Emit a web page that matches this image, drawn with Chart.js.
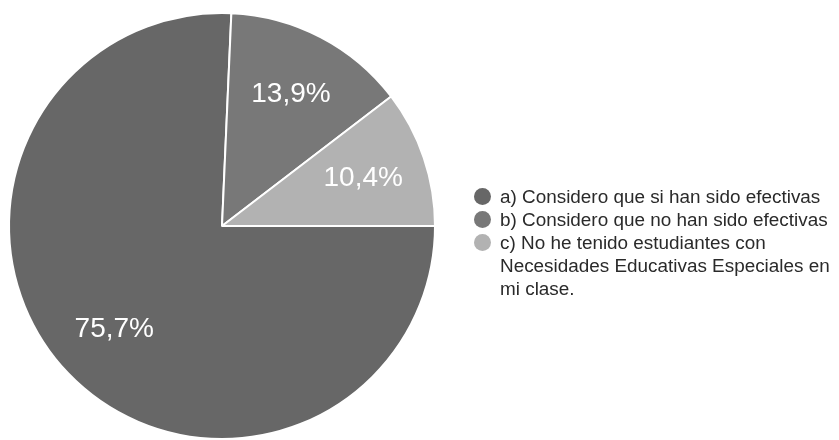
<!DOCTYPE html>
<html>
<head>
<meta charset="utf-8">
<script src="https://cdn.jsdelivr.net/npm/chart.js@4/dist/chart.umd.min.js"></script>
<style>
  html, body { margin: 0; padding: 0; background: #fff; }
  #wrap { position: relative; width: 839px; height: 440px; overflow: hidden; }
  #chart { position: absolute; left: 0; top: 0; }
  #legend {
    position: absolute; left: 474px; top: 185px; width: 365px;
    font-family: "Liberation Sans", Arial, sans-serif; font-size: 18.9px;
    line-height: 23px; color: #2a2a2a;
  }
  .item { display: flex; align-items: flex-start; }
  .dot { flex: 0 0 auto; width: 17px; height: 17px; border-radius: 50%; margin: 3px 9px 0 0; }
  .txt { width: 339px; }
</style>
</head>
<body>
<div id="wrap">
  <canvas id="chart" width="839" height="440"></canvas>
  <div id="legend"></div>
</div>
<script>
const categories = [
  'a) Considero que si han sido efectivas',
  'b) Considero que no han sido efectivas',
  'c) No he tenido estudiantes con Necesidades Educativas Especiales en mi clase.'
];
const values = [75.7, 13.9, 10.4];
const sliceColors = ['#676767', '#787878', '#b2b2b2'];

// etiquetas de porcentaje dentro de cada sector
const pctLabels = {
  id: 'pctLabels',
  afterDatasetsDraw(chart) {
    const ctx = chart.ctx;
    const meta = chart.getDatasetMeta(0);
    ctx.save();
    ctx.fillStyle = '#ffffff';
    ctx.font = '28px "Liberation Sans", Arial, sans-serif';
    ctx.textAlign = 'center';
    ctx.textBaseline = 'middle';
    meta.data.forEach((arc, i) => {
      const p = arc.getProps(['x', 'y', 'startAngle', 'endAngle', 'outerRadius'], true);
      const mid = (p.startAngle + p.endAngle) / 2;
      const r = p.outerRadius * 0.7;
      const label = values[i].toFixed(1).replace('.', ',') + '%';
      ctx.fillText(label, p.x + Math.cos(mid) * r, p.y + Math.sin(mid) * r);
    });
    ctx.restore();
  }
};

new Chart(document.getElementById('chart'), {
  type: 'pie',
  data: {
    labels: categories,
    datasets: [{
      data: values,
      backgroundColor: sliceColors,
      borderColor: '#ffffff',
      borderWidth: 2
    }]
  },
  options: {
    responsive: false,
    animation: false,
    rotation: 90,
    layout: { padding: { left: 8, top: 12, bottom: 0, right: 403 } },
    plugins: {
      legend: { display: false },
      tooltip: { enabled: false }
    }
  },
  plugins: [pctLabels]
});

// leyenda a la derecha
const legend = document.getElementById('legend');
categories.forEach((name, i) => {
  const item = document.createElement('div');
  item.className = 'item';
  const dot = document.createElement('span');
  dot.className = 'dot';
  dot.style.background = sliceColors[i];
  const txt = document.createElement('span');
  txt.className = 'txt';
  txt.textContent = name;
  item.appendChild(dot);
  item.appendChild(txt);
  legend.appendChild(item);
});
</script>
</body>
</html>
